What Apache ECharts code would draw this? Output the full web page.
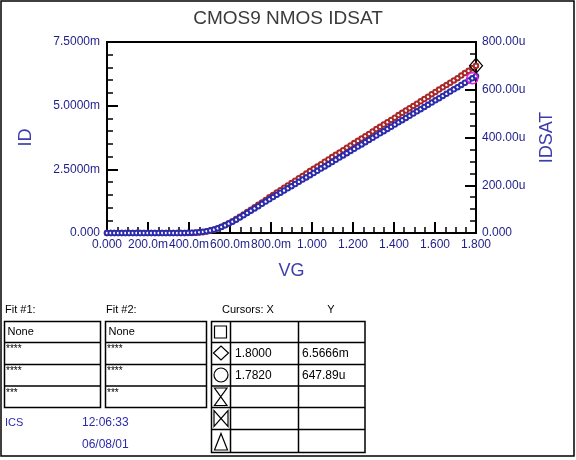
<!DOCTYPE html>
<html>
<head>
<meta charset="utf-8">
<title>CMOS9 NMOS IDSAT</title>
<script src="https://cdn.jsdelivr.net/npm/echarts@6.0.0/dist/echarts.min.js"></script>
<style>
  html, body { margin: 0; padding: 0; background: #fff; }
  #main { width: 576px; height: 460px; }
</style>
</head>
<body>
<div id="main"></div>
<script>
// sweep of VG (V)
var vg = [
  0, 0.018, 0.036, 0.054, 0.072, 0.09, 0.108, 0.126, 0.144, 0.162,
  0.18, 0.198, 0.216, 0.234, 0.252, 0.27, 0.288, 0.306, 0.324, 0.342,
  0.36, 0.378, 0.396, 0.414, 0.432, 0.45, 0.468, 0.486, 0.504, 0.522,
  0.54, 0.558, 0.576, 0.594, 0.612, 0.63, 0.648, 0.666, 0.684, 0.702,
  0.72, 0.738, 0.756, 0.774, 0.792, 0.81, 0.828, 0.846, 0.864, 0.882,
  0.9, 0.918, 0.936, 0.954, 0.972, 0.99, 1.008, 1.026, 1.044, 1.062,
  1.08, 1.098, 1.116, 1.134, 1.152, 1.17, 1.188, 1.206, 1.224, 1.242,
  1.26, 1.278, 1.296, 1.314, 1.332, 1.35, 1.368, 1.386, 1.404, 1.422,
  1.44, 1.458, 1.476, 1.494, 1.512, 1.53, 1.548, 1.566, 1.584, 1.602,
  1.62, 1.638, 1.656, 1.674, 1.692, 1.71, 1.728, 1.746, 1.764, 1.782,
  1.8
];
// ID in mA (left axis)
var id = [
  0, 0, 0, 0, 0, 0, 0, 0, 0, 0,
  0, 0, 0, 0, 0, 0, 0, 0, 0, 0,
  0, 0, 0.001, 0.003, 0.007, 0.015, 0.03, 0.055, 0.09, 0.13,
  0.18, 0.245, 0.31, 0.385, 0.46, 0.545, 0.635, 0.725, 0.82, 0.91,
  1.01, 1.105, 1.2, 1.3, 1.4, 1.49, 1.59, 1.68, 1.78, 1.87,
  1.96, 2.055, 2.15, 2.24, 2.335, 2.43, 2.52, 2.61, 2.7, 2.8,
  2.89, 2.98, 3.07, 3.16, 3.25, 3.35, 3.44, 3.53, 3.62, 3.71,
  3.8, 3.89, 3.99, 4.08, 4.17, 4.26, 4.35, 4.44, 4.53, 4.63,
  4.72, 4.81, 4.9, 4.99, 5.08, 5.17, 5.26, 5.35, 5.45, 5.54,
  5.63, 5.72, 5.81, 5.9, 5.99, 6.08, 6.18, 6.28, 6.37, 6.47,
  6.5666
];
// IDSAT in uA (right axis)
var idsat = [
  0, 0, 0, 0, 0, 0, 0, 0, 0, 0,
  0, 0, 0, 0, 0, 0, 0, 0, 0, 0,
  0, 0.2, 0.6, 1.2, 2, 3.2, 5, 7.5, 10.5, 14.5,
  19.5, 25.5, 32, 39.5, 47.5, 56, 65, 74.5, 84, 93.5,
  103, 112.5, 122, 131.5, 141, 150.5, 160, 169, 178, 187,
  196, 205.2, 214.4, 223.7, 232.9, 242.1, 251.3, 260.5, 269.8, 279,
  288.2, 297.4, 306.6, 315.9, 325.1, 334.3, 343.5, 352.7, 362, 371.2,
  380.4, 389.6, 398.8, 408.1, 417.3, 426.5, 435.7, 444.9, 454.2, 463.4,
  472.6, 481.8, 491, 500.3, 509.5, 518.7, 527.9, 537.1, 546.4, 555.6,
  564.8, 574, 583.2, 592.5, 601.7, 610.9, 620.1, 629.3, 638.6, 647.89,
  657
];

var xTickLabels = ['0.000', '200.0m', '400.0m', '600.0m', '800.0m', '1.000', '1.200', '1.400', '1.600', '1.800'];
var idTickLabels = ['0.000', '2.5000m', '5.0000m', '7.5000m'];
var idsatTickLabels = ['0.000', '200.00u', '400.00u', '600.00u', '800.00u'];

// cursors
var cursorDiamond = [1.8, 6.5666];
var cursorCircle = [1.782, 647.89];
var cursorRows = [['', ''], ['1.8000', '6.5666m'], ['1.7820', '647.89u'], ['', ''], ['', ''], ['', '']];
var fitRows = ['None', '****', '****', '***'];

var RED = '#a82828';
var BLUE = '#2b2bab';
var TICK = '#1e1e8a';
var FONT = 'Liberation Sans, Arial, sans-serif';

var chart = echarts.init(document.getElementById('main'));

var idData = vg.map(function (v, i) { return [v, id[i]]; });
var idsatData = vg.map(function (v, i) { return [v, idsat[i]]; });

function txt(x, y, s, size, color, extra) {
  var st = { text: s, x: x, y: y, fill: color || '#000', font: (size || 11) + 'px ' + FONT, verticalAlign: 'middle' };
  if (extra) { for (var k in extra) st[k] = extra[k]; }
  return { type: 'text', silent: true, style: st };
}
function ln(x1, y1, x2, y2, w) {
  return { type: 'line', silent: true, shape: { x1: x1, y1: y1, x2: x2, y2: y2 }, style: { stroke: '#000', lineWidth: w || 1.5 } };
}
function box(x, y, w, h, lw) {
  return { type: 'rect', silent: true, shape: { x: x, y: y, width: w, height: h }, style: { fill: 'none', stroke: '#000', lineWidth: lw || 1.5 } };
}
function poly(points, closed) {
  return { type: closed ? 'polygon' : 'polyline', silent: true, shape: { points: points }, style: { fill: 'none', stroke: '#000', lineWidth: 1.2 } };
}

var g = [];
// outer frame
g.push(box(1, 1, 573, 455, 1.5));

// fit tables
var rowY = [321.5, 342.5, 364.5, 386, 407.5];
[[4.5, 100.5, 'Fit #1:'], [105.5, 206.5, 'Fit #2:']].forEach(function (t) {
  g.push(txt(t[0] + 0.5, 310, t[2], 11, '#000', { letterSpacing: 0.6 }));
  g.push(box(t[0], rowY[0], t[1] - t[0], rowY[4] - rowY[0]));
  for (var r = 1; r < 4; r++) g.push(ln(t[0], rowY[r], t[1], rowY[r]));
  g.push(txt(t[0] + 3, 332, fitRows[0], 11, '#000', { letterSpacing: 1 }));
  for (var k = 1; k < 4; k++) g.push(txt(t[0] + 1.5, rowY[k] + 2, fitRows[k], 10, '#000', { verticalAlign: 'top' }));
});

// cursor table
var cx = [211.5, 230.5, 298.5, 365];
var cy = [321.5, 342.5, 364.5, 386, 407.5, 429.5, 452.5];
g.push(txt(222, 310, 'Cursors: X', 11, '#000'));
g.push(txt(331, 310, 'Y', 11, '#000', { align: 'center' }));
g.push(box(cx[0], cy[0], cx[3] - cx[0], cy[6] - cy[0]));
for (var r = 1; r < 6; r++) g.push(ln(cx[0], cy[r], cx[3], cy[r]));
g.push(ln(cx[1], cy[0], cx[1], cy[6]));
g.push(ln(cx[2], cy[0], cx[2], cy[6]));
cursorRows.forEach(function (row, i) {
  var yy = (cy[i] + cy[i + 1]) / 2;
  if (row[0]) g.push(txt(235, yy, row[0], 12, '#000'));
  if (row[1]) g.push(txt(302, yy, row[1], 12, '#000'));
});
// cursor symbols
g.push(box(214.5, 326, 12, 12, 1.2));
g.push(poly([[213.5, 353], [221, 346], [228.5, 353], [221, 360]], true));
g.push({ type: 'circle', silent: true, shape: { cx: 221, cy: 375, r: 7 }, style: { fill: 'none', stroke: '#000', lineWidth: 1.2 } });
g.push(poly([[214.5, 388], [227, 388], [214.5, 405.5], [227, 405.5]], true));
g.push(poly([[214, 410.5], [214, 426.5], [228, 410.5], [228, 426.5]], true));
g.push(poly([[221, 433.5], [227.5, 450], [214.5, 450]], true));

// footer
g.push(txt(5, 423, 'ICS', 11, BLUE));
g.push(txt(82, 423, '12:06:33', 12, BLUE));
g.push(txt(82, 445, '06/08/01', 12, BLUE));

var tickStyle = { show: true, inside: true, length: 11, lineStyle: { color: '#000', width: 2 } };
var axisLineStyle = { show: true, lineStyle: { color: '#000', width: 2 } };

var option = {
  animation: false,
  backgroundColor: '#fff',
  title: {
    text: 'CMOS9 NMOS IDSAT',
    left: 'center',
    top: 9,
    padding: 0,
    textStyle: { fontSize: 19, fontWeight: 'normal', color: '#3a3a3a', fontFamily: FONT }
  },
  grid: {
    left: 107, right: 100, top: 42, bottom: 227,
    show: true, borderColor: '#000', borderWidth: 2, backgroundColor: 'transparent'
  },
  xAxis: {
    type: 'value',
    min: 0, max: 1.8, interval: 0.2,
    name: 'VG', nameLocation: 'middle', nameGap: 29,
    nameTextStyle: { fontSize: 18, color: '#3d3dab', fontFamily: FONT },
    axisLine: axisLineStyle,
    axisTick: tickStyle,
    minorTick: { show: true, splitNumber: 4, length: 6, lineStyle: { color: '#000', width: 1.5 } },
    splitLine: { show: false },
    axisLabel: {
      margin: 6, fontSize: 12, color: TICK, fontFamily: FONT,
      formatter: function (v) { return xTickLabels[Math.round(v / 0.2)]; }
    }
  },
  yAxis: [{
    type: 'value',
    min: 0, max: 7.5, interval: 2.5,
    name: 'ID', nameLocation: 'middle', nameGap: 72, nameRotate: 90,
    nameTextStyle: { fontSize: 18, color: '#3d3dab', fontFamily: FONT },
    axisLine: axisLineStyle,
    axisTick: tickStyle,
    minorTick: { show: true, splitNumber: 5, length: 6, lineStyle: { color: '#000', width: 1.5 } },
    splitLine: { show: false },
    axisLabel: {
      margin: 7, fontSize: 12, color: TICK, fontFamily: FONT, padding: [0, 0, 7, 0],
      formatter: function (v) { return idTickLabels[Math.round(v / 2.5)]; }
    }
  }, {
    type: 'value',
    position: 'right',
    min: 0, max: 800, interval: 200,
    name: 'IDSAT', nameLocation: 'middle', nameGap: 62, nameRotate: 90,
    nameTextStyle: { fontSize: 18, color: '#3d3dab', fontFamily: FONT },
    axisLine: axisLineStyle,
    axisTick: tickStyle,
    minorTick: { show: true, splitNumber: 4, length: 6, lineStyle: { color: '#000', width: 1.5 } },
    splitLine: { show: false },
    axisLabel: {
      margin: 6, fontSize: 12, color: TICK, fontFamily: FONT, padding: [0, 0, 7, 0],
      formatter: function (v) { return idsatTickLabels[Math.round(v / 200)]; }
    }
  }],
  series: [{
    name: 'ID', type: 'line', yAxisIndex: 0, data: idData,
    symbol: 'emptyCircle', symbolSize: 4.5, showAllSymbol: true,
    lineStyle: { color: RED, width: 1 },
    itemStyle: { color: RED, borderColor: RED, borderWidth: 1.2 }
  }, {
    name: 'IDSAT', type: 'line', yAxisIndex: 1, data: idsatData,
    symbol: 'emptyCircle', symbolSize: 4.5, showAllSymbol: true,
    lineStyle: { color: BLUE, width: 1 },
    itemStyle: { color: BLUE, borderColor: BLUE, borderWidth: 1.2 }
  }, {
    name: 'cursor1', type: 'scatter', yAxisIndex: 0, data: [cursorDiamond], z: 5,
    symbol: 'diamond', symbolSize: [13, 15],
    itemStyle: { color: 'rgba(0,0,0,0)', borderColor: '#000', borderWidth: 1.2, opacity: 1 }
  }, {
    name: 'cursor2', type: 'scatter', yAxisIndex: 1, data: [cursorCircle], z: 5,
    symbol: 'circle', symbolSize: 11,
    itemStyle: { color: 'rgba(0,0,0,0)', borderColor: '#e020e0', borderWidth: 1.5, opacity: 1 }
  }],
  graphic: g
};

chart.setOption(option);
</script>
</body>
</html>
